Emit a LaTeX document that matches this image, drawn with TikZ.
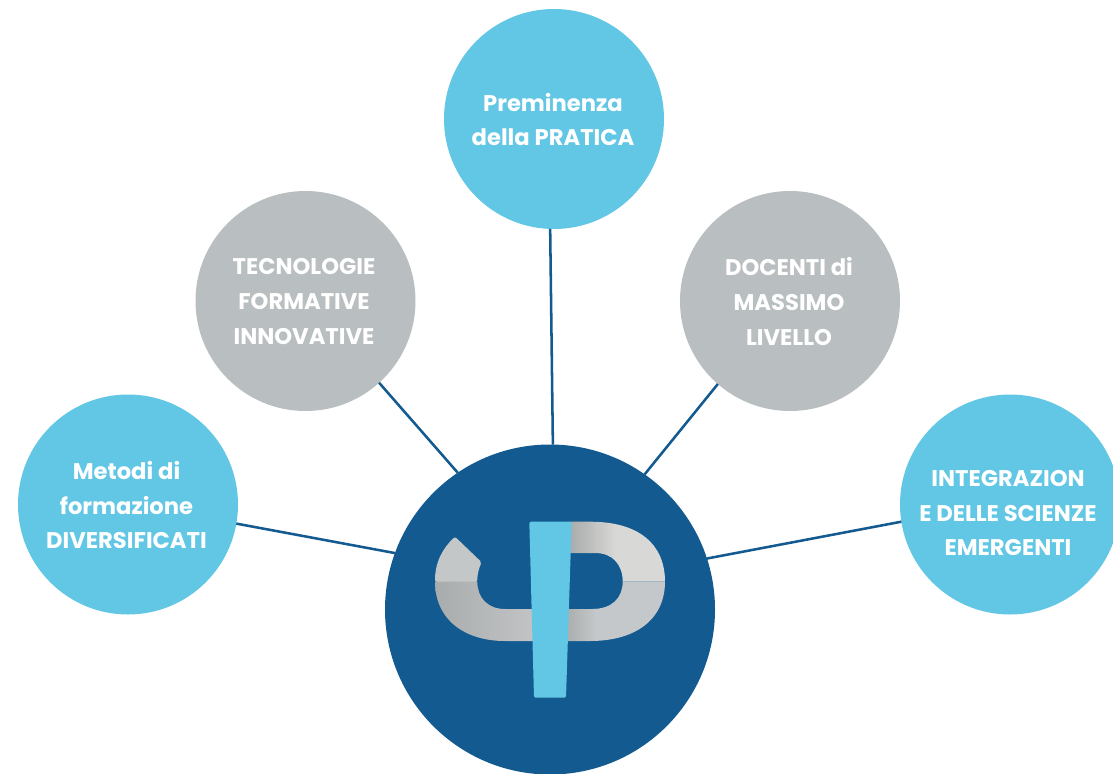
\documentclass[tikz,border=0pt]{standalone}
\usepackage{fontspec}
\setmainfont{Poppins}
\definecolor{navy}{HTML}{125A8F}
\definecolor{sky}{HTML}{62C7E5}
\definecolor{stone}{HTML}{B9BEC0}
\definecolor{logoshade}{HTML}{A9ACAC}
\definecolor{logoupr}{HTML}{D8D8D6}
\definecolor{logolwr}{HTML}{C4C8CA}
\definecolor{logoupl}{HTML}{C4C7C8}
\definecolor{logolwl}{HTML}{C2C4C6}
\tikzset{
  bubtext/.style={text=white,align=center,font=\fontsize{17}{26}\selectfont\bfseries},
  bub/.style={circle,minimum size=165pt,inner sep=0pt,outer sep=0pt,bubtext},
  skybub/.style={bub,fill=sky},
  stonebub/.style={bub,fill=stone},
  link/.style={draw=navy,line width=1.9pt}
}
\begin{document}
\begin{tikzpicture}[x=0.75pt,y=-0.75pt]
\clip (0,0) rectangle (1113,774);
\fill[white] (0,0) rectangle (1113,774);
\node[skybub] (top) at (554,119) {};
\node[bubtext,inner sep=0pt] (topt) at (553,119.5) {Preminenza\\della PRATICA};
\node[stonebub] (lg) at (305.5,301) {};
\node[bubtext,inner sep=0pt] (lgt) at (304,301.5) {TECNOLOGIE\\FORMATIVE\\INNOVATIVE};
\node[stonebub] (rg) at (790,301) {};
\node[bubtext,inner sep=0pt] (rgt) at (789,301.5) {DOCENTI di\\MASSIMO\\LIVELLO};
\node[skybub] (lb) at (128,504.5) {};
\node[bubtext,inner sep=0pt] (lbt) at (126.5,505) {Metodi di\\formazione\\DIVERSIFICATI};
\node[skybub] (rb) at (1010,504.5) {};
\node[bubtext,inner sep=0pt] (rbt) at (1008,513) {INTEGRAZION\\E DELLE SCIENZE\\EMERGENTI};
\node[circle,fill=navy,minimum size=247.5pt,inner sep=0pt,outer sep=0pt] (hub) at (550,609.5) {};
\draw[link] (top.268.9) -- (hub.89.3);
\draw[link] (lg.-48.7) -- (hub.124.3);
\draw[link] (rg.229.3) -- (hub.55.3);
\draw[link] (lb.-10.4) -- (hub.160);
\draw[link] (rb.189.5) -- (hub.18.7);
% logo: right, upper
\begin{scope}
\clip (565,521.7) -- (590,521.7) .. controls (640,521.7) and (665,545) .. (665,581.7)
  -- (622.7,581.7) .. controls (622.7,565) and (613,553) .. (595,553) -- (565,553) -- cycle;
\shade[left color=logoshade,right color=logoupr] (570,515) rectangle (616,582);
\fill[logoupr] (615,515) rectangle (670,582);
\end{scope}
% logo: right, lower
\begin{scope}
\clip (665,581.5) .. controls (665,620) and (635,641) .. (590,641) -- (565,641) -- (565,609) -- (592,609)
  .. controls (612,609) and (622.7,598) .. (622.7,581.5) -- cycle;
\shade[left color=logoshade,right color=logolwr] (565,581) rectangle (596,645);
\fill[logolwr] (595,581) rectangle (670,645);
\end{scope}
% logo: left, upper
\fill[logoupl,rounded corners=1.5pt] (435,582) .. controls (435,562) and (443,548) .. (455,536.7)
  -- (481.7,562.3) .. controls (479,568) and (477.3,574) .. (477.3,582) -- cycle;
% logo: left, lower
\begin{scope}
\clip (435,581.5) -- (477.3,581.5) .. controls (477.3,598) and (488,609) .. (505,609) -- (537,609) -- (537,641) -- (505,641)
  .. controls (465,641) and (435,620) .. (435,581.5) -- cycle;
\shade[left color=logoshade,right color=logolwl] (435,581) rectangle (537,645);
\end{scope}
% logo: bar
\fill[sky,rounded corners=1.5pt] (529.3,521.7) -- (571.7,521.7) -- (566,697.7) -- (534,697.7) -- cycle;
\end{tikzpicture}
\end{document}
